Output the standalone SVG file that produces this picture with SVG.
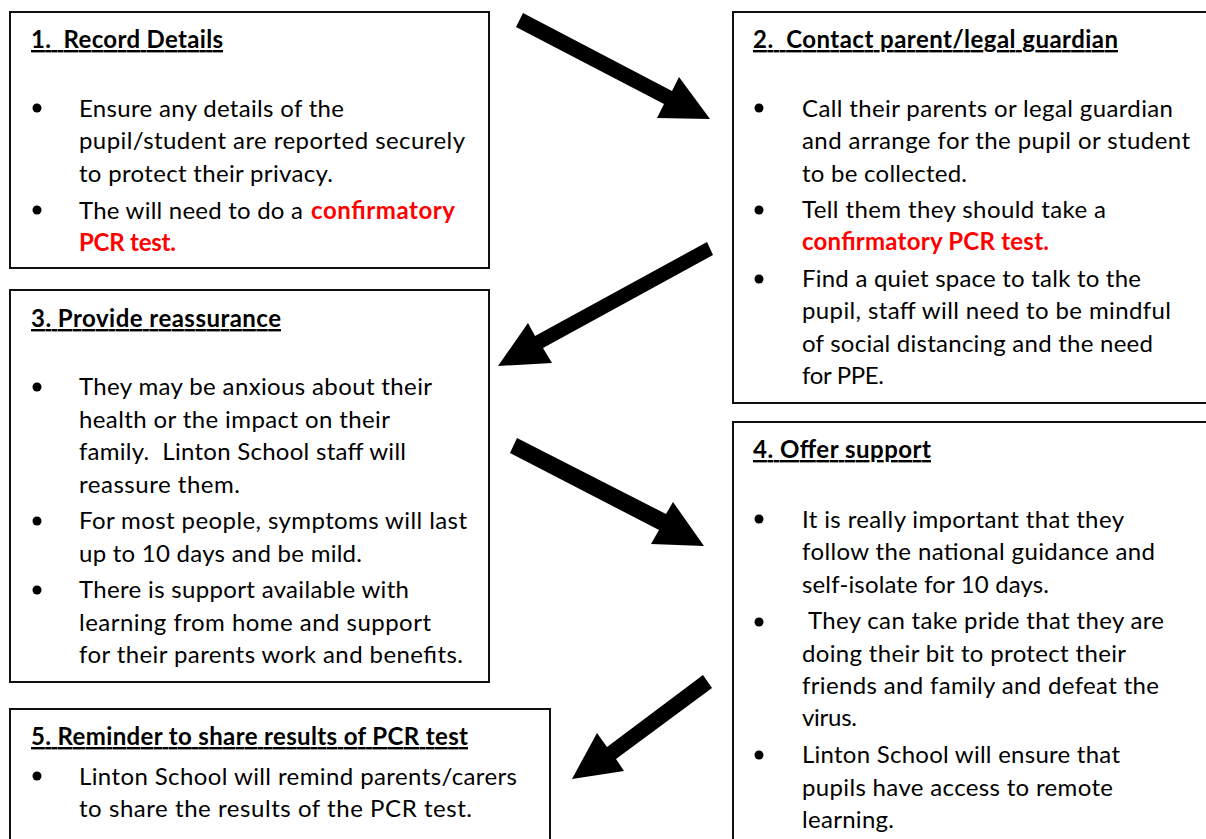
<svg xmlns="http://www.w3.org/2000/svg" width="1206" height="839" viewBox="0 0 1206 839">
<style>
.box{fill:#fff;stroke:#111;stroke-width:2}
.t{font-family:Lato,"Open Sans","Liberation Sans",sans-serif;font-size:24px;fill:#000}
.h{font-family:Lato,"Open Sans","Liberation Sans",sans-serif;font-size:24px;font-weight:bold;fill:#000;text-decoration:underline;white-space:pre}
.r{font-family:Lato,"Open Sans","Liberation Sans",sans-serif;font-size:24px;font-weight:bold;fill:#ff0000}
.b{fill:#000}
.arrow{fill:#000}
</style>
<rect width="1206" height="839" fill="#fff"/>
<g id="connectors">
<polygon class="arrow" points="523,13 672,91 679,77 710,119 657,118 664,104 516,27"/>
<polygon class="arrow" points="707,242 713,255 543,348 552,363 498,366 528,323 535,336"/>
<polygon class="arrow" points="517,438 666,514 673,502 704,546 651,544 659,530 510,453"/>
<polygon class="arrow" points="703,675 712,688 616,759 624,771 572,779 597,733 607,747"/>
</g>
<g id="node1">
<rect class="box" x="10" y="12" width="479" height="256"/>
<text class="h" x="31" y="48" textLength="192">1.  Record Details</text>
<circle class="b" cx="37" cy="108" r="4.5"/>
<text class="t" x="79" y="117" textLength="265">Ensure any details of the</text>
<text class="t" x="79" y="149" textLength="386">pupil/student are reported securely</text>
<text class="t" x="79" y="182" textLength="254">to protect their privacy.</text>
<circle class="b" cx="37" cy="210" r="4.5"/>
<text class="t" x="79" y="219" textLength="224">The will need to do a</text>
<text class="r" x="311" y="219" textLength="144">confirmatory</text>
<text class="r" x="79" y="251" textLength="97">PCR test.</text>
</g>
<g id="node2">
<rect class="box" x="733" y="12" width="480" height="391"/>
<text class="h" x="753" y="48" textLength="365">2.  Contact parent/legal guardian</text>
<circle class="b" cx="759" cy="108" r="4.5"/>
<text class="t" x="802" y="117" textLength="371">Call their parents or legal guardian</text>
<text class="t" x="802" y="149" textLength="388">and arrange for the pupil or student</text>
<text class="t" x="802" y="182" textLength="165">to be collected.</text>
<circle class="b" cx="759" cy="210" r="4.5"/>
<text class="t" x="802" y="218" textLength="304">Tell them they should take a</text>
<text class="r" x="802" y="250" textLength="247">confirmatory PCR test.</text>
<circle class="b" cx="759" cy="279" r="4.5"/>
<text class="t" x="802" y="287" textLength="339">Find a quiet space to talk to the</text>
<text class="t" x="802" y="319" textLength="369">pupil, staff will need to be mindful</text>
<text class="t" x="802" y="352" textLength="351">of social distancing and the need</text>
<text class="t" x="802" y="384" textLength="82">for PPE.</text>
</g>
<g id="node3">
<rect class="box" x="10" y="290" width="479" height="392"/>
<text class="h" x="31" y="327" textLength="250">3. Provide reassurance</text>
<circle class="b" cx="37" cy="387" r="4.5"/>
<text class="t" x="79" y="395" textLength="353">They may be anxious about their</text>
<text class="t" x="79" y="428" textLength="311">health or the impact on their</text>
<text class="t" x="79" y="460" textLength="327" style="white-space:pre">family.  Linton School staff will</text>
<text class="t" x="79" y="493" textLength="161">reassure them.</text>
<circle class="b" cx="37" cy="521" r="4.5"/>
<text class="t" x="79" y="529" textLength="388">For most people, symptoms will last</text>
<text class="t" x="79" y="562" textLength="283">up to 10 days and be mild.</text>
<circle class="b" cx="37" cy="590" r="4.5"/>
<text class="t" x="79" y="598" textLength="330">There is support available with</text>
<text class="t" x="79" y="631" textLength="352">learning from home and support</text>
<text class="t" x="79" y="663" textLength="384">for their parents work and benefits.</text>
</g>
<g id="node4">
<rect class="box" x="733" y="422" width="480" height="430"/>
<text class="h" x="753" y="458" textLength="178">4. Offer support</text>
<circle class="b" cx="759" cy="519" r="4.5"/>
<text class="t" x="802" y="528" textLength="322">It is really important that they</text>
<text class="t" x="802" y="560" textLength="353">follow the national guidance and</text>
<text class="t" x="802" y="593" textLength="247">self-isolate for 10 days.</text>
<circle class="b" cx="759" cy="622" r="4.5"/>
<text class="t" x="808" y="629" textLength="356">They can take pride that they are</text>
<text class="t" x="802" y="662" textLength="324">doing their bit to protect their</text>
<text class="t" x="802" y="694" textLength="357">friends and family and defeat the</text>
<text class="t" x="802" y="726" textLength="55">virus.</text>
<circle class="b" cx="759" cy="755" r="4.5"/>
<text class="t" x="802" y="763" textLength="318">Linton School will ensure that</text>
<text class="t" x="802" y="796" textLength="311">pupils have access to remote</text>
<text class="t" x="802" y="828" textLength="92">learning.</text>
</g>
<g id="node5">
<rect class="box" x="10" y="709" width="540" height="140"/>
<text class="h" x="31" y="745" textLength="437">5. Reminder to share results of PCR test</text>
<circle class="b" cx="37" cy="776" r="4.5"/>
<text class="t" x="79" y="785" textLength="438">Linton School will remind parents/carers</text>
<text class="t" x="79" y="817" textLength="393">to share the results of the PCR test.</text>
</g>
</svg>
